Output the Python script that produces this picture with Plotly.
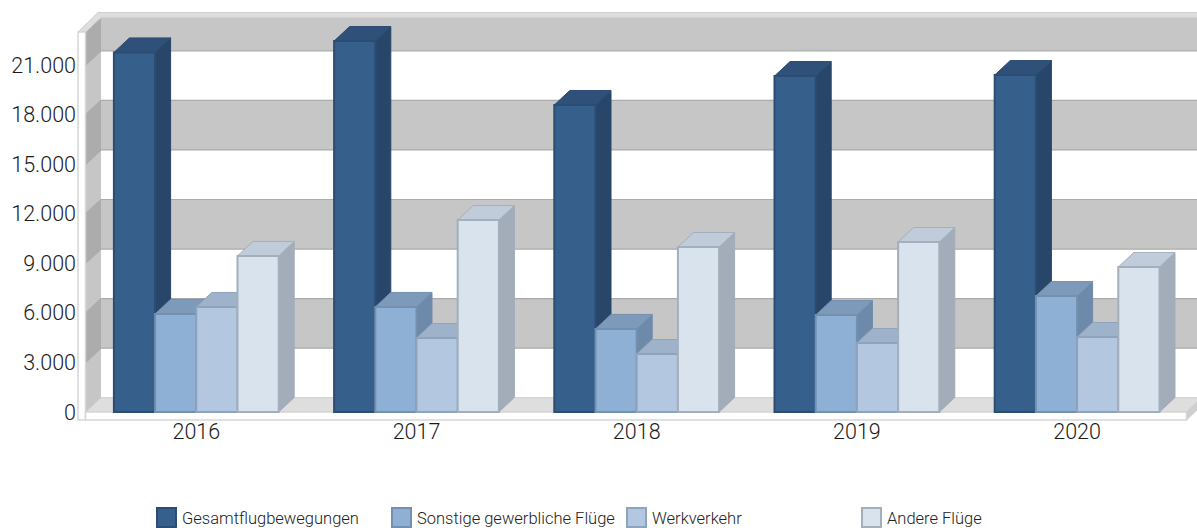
import plotly.graph_objects as go

years = ["2016", "2017", "2018", "2019", "2020"]
series_names = ["Gesamtflugbewegungen", "Sonstige gewerbliche Flüge", "Werkverkehr", "Andere Flüge"]
gesamt = [21770, 22460, 18590, 20340, 20400]
sonstige = [5940, 6360, 5030, 5870, 7020]
werk = [6360, 4480, 3510, 4180, 4540]
andere = [9450, 11620, 9990, 10290, 8780]
all_values = [gesamt, sonstige, werk, andere]

front = ["#365F8C", "#8FB0D5", "#B3C8E0", "#D9E3EE"]
side = ["#28466A", "#6E8AAB", "#8FA2B8", "#A3ADB9"]
top = ["#2F5078", "#7E9ABB", "#9EB3CA", "#C0CCD9"]
edge = ["#2C4D73", "#7390B0", "#8EA3BC", "#A3AFBD"]

y_ticks = [0, 3000, 6000, 9000, 12000, 15000, 18000, 21000]
wall_levels = y_ticks + [23000]

W, H = 1197, 528
PX_PER_GROUP = 220.2
CENTER0 = 196.3
ZERO_PX = 412.0
PX_PER_VALUE = 49.55 / 3000

def xu(px):
    return (px - CENTER0) / PX_PER_GROUP

def vu(py):
    return (ZERO_PX - py) / PX_PER_VALUE

DX = 15.5 / PX_PER_GROUP
DY = 14.5 / PX_PER_VALUE
BAR_W = 41.2 / PX_PER_GROUP
GROUP_START = -2 * BAR_W

shapes = []
annotations = []

def poly(points, fill, line=None, width=1):
    path = "M" + " L".join(f"{a},{b}" for a, b in points) + " Z"
    shapes.append(dict(type="path", path=path, xref="x", yref="y", layer="below",
                       fillcolor=fill, line=dict(color=line or fill, width=width)))

X0, X1 = xu(85.5), xu(1186.5)
WDX, WDY = 15.5 / PX_PER_GROUP, 14.3 / PX_PER_VALUE
for i in range(len(wall_levels) - 1):
    a, b = wall_levels[i], wall_levels[i + 1]
    grey = i % 2 == 1
    back_col = "#C6C6C6" if grey else "#FFFFFF"
    side_col = "#ACACAC" if grey else "#C6C6C6"
    poly([(X0 + WDX, a + WDY), (X1 + WDX, a + WDY), (X1 + WDX, b + WDY), (X0 + WDX, b + WDY)], back_col, back_col, 0)
    poly([(X0, a), (X0 + WDX, a + WDY), (X0 + WDX, b + WDY), (X0, b)], side_col, side_col, 0)
for v in y_ticks[1:]:
    shapes.append(dict(type="path", path=f"M{X0},{v} L{X0+WDX},{v+WDY} L{X1+WDX},{v+WDY}", xref="x", yref="y",
                       layer="below", line=dict(color="#ABABAB", width=1.2)))
# floor
poly([(X0, 0), (X1, 0), (X1 + WDX, WDY), (X0 + WDX, WDY)], "#DEDEDE", "#CCCCCC", 1)
# floor side
poly([(X1, 0), (X1 + WDX, WDY), (X1 + WDX, vu(405)), (X1, vu(420))], "#CFCFCF", "#CFCFCF", 1)
# top rim
poly([(xu(78), vu(32)), (X0, vu(32)), (X0 + WDX, vu(17.4)), (xu(1210), vu(17.4)), (xu(1210), vu(12.5)), (xu(98), vu(12.5))],
     "#DEDEDE", "#CFCFCF", 1)
# front strips
poly([(xu(78), vu(32)), (X0, vu(32)), (X0, vu(420)), (xu(78), vu(420))], "#FFFFFF", "#D6D6D6", 1.5)
poly([(X0, vu(412)), (X1, vu(412)), (X1, vu(420)), (X0, vu(420))], "#FFFFFF", "#D6D6D6", 1.5)

fig = go.Figure()
for k, values in enumerate(all_values):
    off = GROUP_START + k * BAR_W
    xs_side, ys_side, xs_top, ys_top = [], [], [], []
    for g, v in enumerate(values):
        l = g + off
        r = l + BAR_W
        xs_side += [r, r + DX, r + DX, r, r, None]
        ys_side += [0, DY, v + DY, v, 0, None]
        xs_top += [l, r, r + DX, l + DX, l, None]
        ys_top += [v, v, v + DY, v + DY, v, None]
    fig.add_trace(go.Scatter(x=xs_side, y=ys_side, mode="lines", fill="toself", fillcolor=side[k],
                             line=dict(color=side[k], width=1), hoverinfo="skip", showlegend=False, zorder=3 * k + 1))
    fig.add_trace(go.Scatter(x=xs_top, y=ys_top, mode="lines", fill="toself", fillcolor=top[k],
                             line=dict(color=edge[k], width=1), hoverinfo="skip", showlegend=False, zorder=3 * k + 2))
    fig.add_trace(go.Bar(x=list(range(len(years))), y=values, name=series_names[k], width=BAR_W, offset=off,
                         marker=dict(color=front[k], line=dict(color=edge[k], width=2)),
                         showlegend=False, zorder=3 * k + 3))
    # legend entry (swatch + real text)
    left = 157 + 235 * k
    shapes.append(dict(type="rect", xref="paper", yref="paper", x0=left / W, x1=(left + 19) / W,
                       y0=(H - 527) / H, y1=(H - 508) / H, fillcolor=front[k],
                       line=dict(color=edge[k], width=2)))
    annotations.append(dict(text=series_names[k], xref="paper", yref="paper", x=(left + 23.5) / W, y=(H - 518) / H,
                            xanchor="left", yanchor="middle", showarrow=False, xshift=0,
                            borderpad=0, font=dict(size=16.5, color="#222222", weight=300)))

fig.update_layout(
    width=W, height=H, margin=dict(l=0, r=0, t=0, b=0, pad=0), autosize=False,
    paper_bgcolor="white", plot_bgcolor="white", barmode="overlay", separators=",.",
    font=dict(family="Roboto, Liberation Sans, sans-serif", color="#1A1A1A"),
    shapes=shapes, annotations=annotations, showlegend=False,
    xaxis=dict(range=[xu(0), xu(W)], domain=[0, 1], anchor="free", position=(H - 416) / H,
               tickmode="array", tickvals=list(range(len(years))), ticktext=years,
               showgrid=False, zeroline=False, showline=False, ticks="", tickfont=dict(size=21.5, weight=300)),
    yaxis=dict(range=[vu(H), vu(0)], domain=[0, 1], anchor="free", position=76 / W,
               tickmode="array", tickvals=y_ticks, tickformat=",d",
               showgrid=False, zeroline=False, showline=False, ticks="", tickfont=dict(size=21.5, weight=300)),
)
fig.write_html("out.html", config=dict(displayModeBar=False),
               post_script="document.body.style.margin='0';document.body.style.overflow='hidden';")
